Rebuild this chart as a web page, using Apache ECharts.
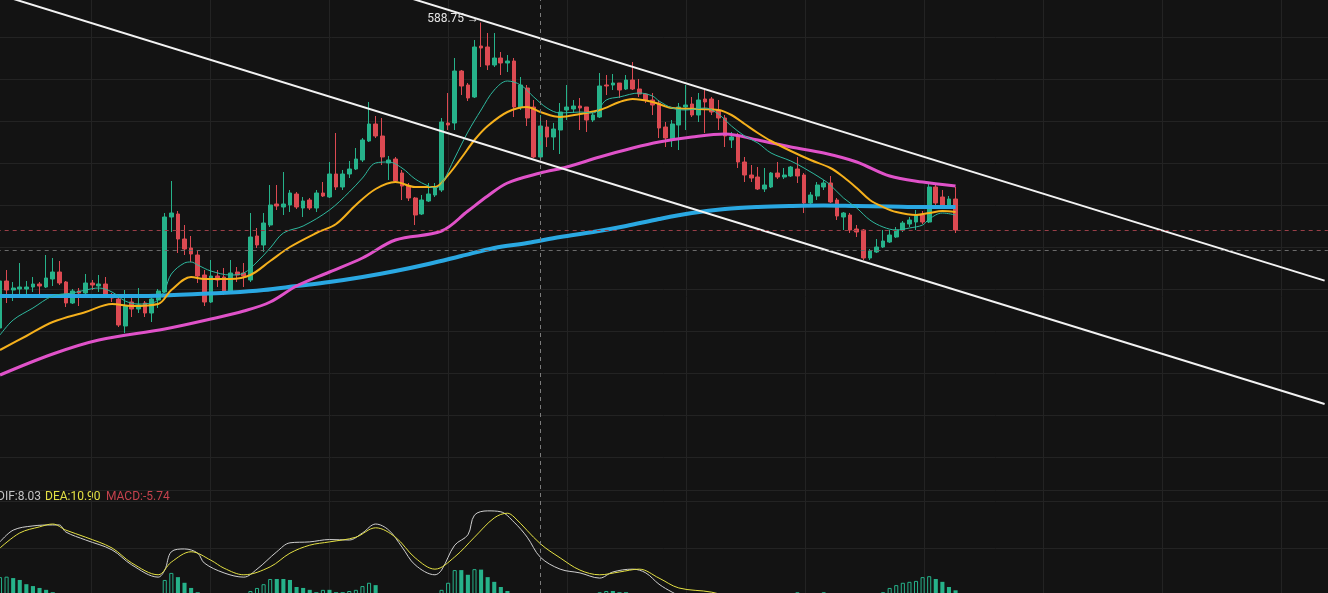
<!DOCTYPE html>
<html>
<head>
<meta charset="utf-8">
<title></title>
<script type="text/javascript" src="https://cdn.jsdelivr.net/npm/echarts@6/dist/echarts.min.js"></script>
<style>
html, body { margin: 0; padding: 0; background: #131313; }
#kline { width: 1328px; height: 593px; }
</style>
</head>
<body>
<div id="kline"></div>
<script type="text/javascript">
// one slot per trading day, the right part of the chart is empty space
var SLOTS = 202;
var slots = [];
for (var s = 0; s < SLOTS; s++) slots.push(s);

// [open, close, low, high]
var candles = [
  [436,459.5,434,461],[459.5,455,448.5,465],[455,456,449.5,459],[455.5,456.5,453,468.5],[455.5,456.5,452.5,459.5],
  [456.5,458,454,461.5],[458,457,452.5,459],[456.5,461,456,472.5],[460.5,464,457,471],[464,458.5,457.5,469.5],
  [459,448.5,446.5,459.5],[448.5,454.5,448,455.5],[454.5,453.5,447,456],[453.5,458.5,453,463],[458.5,457.5,455,460],
  [457,458,454,462.5],[458,452.5,452,461.5],[452,451,449,453.5],[450.5,437.5,436.5,451.5],[437,447,433.5,455],
  [449,445.5,441.5,451],[445.5,447.5,443.5,456],[448.5,443.5,441.5,449.5],[443.5,450.5,439,451],[450,454.5,446,455.5],
  [454,491.5,453.5,493.5],[491.5,493.5,484,509.5],[493,480.5,473.5,494.5],[480.5,475.5,472.5,487.5],[476,473,469,482],
  [472.5,462,458.5,475],[462.5,449,447,465],[449,462,448.5,470],[462,460,456.5,465],[461.5,454,452.5,466],
  [454,463.5,453.5,470],[464,462.5,459,466.5],[463.5,462,456.5,468.5],[460,481.5,459,493.5],[482,477.5,476,486],
  [477.5,488.5,474,493.5],[487.5,497.5,486.5,507.5],[498,497,495,507.5],[496.5,498,492.5,514],[497.5,503.5,494,505],
  [503,496.5,495.5,504],[496,499.5,491.5,501.5],[500,496,495,501],[496,503.5,494,505],[503.5,502,501.5,509],
  [501.5,513,501,519],[513,506.5,505,533.5],[506.5,513,505,515],[513,515.5,511,519.5],[515.5,520.5,515,526],
  [520,530,519,531],[529.5,538,529,549],[538,532,531,542],[532,521.5,517.5,541],[518.5,520,510,522],
  [520.5,509.5,509,521.5],[513.5,507,500,515],[507,501,499.5,508.5],[501,492.5,487.5,501.5],[493,500,492.5,502.5],
  [499.5,503,499,508.5],[502.5,506,501.5,508.5],[505,539,504,541],[538.5,537.5,535,553.5],[538.5,564.5,535,571],
  [564.5,557,552.5,565],[557.5,551,549.5,558.5],[551.5,576.5,551,580],[577,576,566.5,588.75],[576.5,567.5,565,583.5],
  [567.5,571,566.5,583.5],[571,568.5,562.5,574],[568.5,569.5,564,572.5],[569.5,546.5,541.5,571],[546.5,557.5,545,561.5],
  [556,541,537,557.5],[546.5,521.5,521,550],[521.5,537,520,542.5],[536.5,531.5,526.5,540],[531.5,535.5,525,538.5],
  [535,544,523,548.5],[545,546.5,540,557.5],[545.5,547,543.5,550],[547,546,535,551],[546.5,540,534,546.5],
  [540,542.5,539,543.5],[541.5,557,541,563.5],[557.5,557,552.5,562.5],[557.5,558.5,555,563],[558.5,555,551,558.5],
  [555.5,560,555,562.5],[560,555.5,555,569],[555.5,553,551.5,560.5],[553,550,548.5,553.5],[550,547.5,542.5,553.5],
  [548.5,536,531,550],[536.5,531,526.5,539],[530.5,538,526.5,540],[537.5,546.5,525,548.5],[546.5,547.5,535,557.5],
  [548,542.5,541.5,551.5],[542.5,550,539,553.5],[550.5,549,533.5,555],[550.5,544,542.5,551.5],[545,541,535,550],
  [541,532,526.5,542.5],[530,531.5,526,534],[532.5,519,516,533.5],[519,512.5,509,521.5],[512.5,511,509,517.5],
  [511.5,505.5,505,516.5],[505.5,507.5,504,516],[506.5,513.5,506,514],[513.5,511.5,510.5,519],[511.5,512.5,510.5,516],
  [512,516.5,511.5,517],[515.5,512,508.5,521.5],[512.5,498.5,493.5,513.5],[498.5,502.5,497.5,504],[502,507.5,500,509],
  [506.5,508.5,505,510],[508.5,499,498.5,512],[500,492,490,501],[491.5,493.5,485,494],[492.5,485,483.5,493.5],
  [485.5,484,481.5,487.5],[485,471,470,485.5],[471,474.5,470,475.5],[474,476.5,473.5,480.5],[476.5,479.5,476,485],
  [479,482.5,478.5,485],[481.5,485,481,486.5],[485,488.5,484,489.5],[488,490,486.5,491.5],[489,492.5,485,495],
  [492.5,489,488,494.5],[489,506.5,488.5,508],[506.5,498.5,496,507.5],[501.5,497.5,497,505],[497.5,500.5,496,502],
  [500.5,485,483.5,506.5]
];

// moving averages, [slot, price]
var ma5 = [[0,432.5],[2,440],[5,446],[8,452],[11,453.5],[13,455],[15,456],[17,454],[19,449.5],[21,448],[23,448.5],
  [24,450],[25,455],[26,463],[28,468.5],[29,469],[30,467.5],[32,464.5],[35,462.5],[37,463.5],[39,469],[41,476],
  [43,483.5],[46,487],[50,495],[53,504],[55,511],[57,518.5],[59,519],[61,516],[63,510.5],[65,507],[66,506],[67,508],
  [69,521],[71,534],[73,545],[75,555],[77,559.5],[79,557.5],[81,551.5],[83,546],[85,543.5],[88,544],[90,543.5],
  [92,550],[94,551.5],[97,553.5],[99,552],[100,549.5],[102,546],[104,545],[107,546],[109,543],[111,537],[113,532],
  [115,528.5],[117,523.5],[120,519.5],[122,516],[125,510],[126,507.5],[128,501],[130,496],[132,490],[134,486.5],
  [136,485],[138,486],[140,487.5],[141,490.5],[143,493.5],[145,492.5]];
var ma10 = [[0,425],[4,432],[8,439],[13,444],[17,448],[20,447],[24,448],[26,455],[29,461.5],[31,460.5],[35,460.5],
  [38,462.5],[41,469.5],[44,476.5],[48,483.5],[51,488],[54,497.5],[57,505.5],[60,509],[63,506.5],[66,506.5],
  [68,512.5],[70,521],[72,530],[74,537],[77,544],[80,546.5],[82,544],[85,541.5],[88,543],[91,545],[94,549],
  [96,550.5],[99,549],[102,546],[106,545.5],[109,545],[111,542.5],[113,538],[115,533.5],[117,529.5],[120,524.5],
  [123,520],[126,516],[128,511.5],[130,506],[132,500],[134,496.5],[136,494],[139,492.5],[141,493.5],[143,494.5],[145,494]];
var ma60 = [[0,412.5],[8,423],[15,430],[25,435.5],[32,440.5],[37,444.5],[41,449],[45,457],[50,464],[55,471],[60,480],
  [67,484.5],[71,494.5],[74,502],[77,508.5],[82,513.5],[86,516.5],[91,521.5],[96,526],[100,529],[105,531.5],
  [110,533],[115,530],[120,526.5],[125,523.5],[130,519],[135,512],[140,509],[145,507]];
var ma120 = [[0,452],[10,452],[20,452],[25,452.25],[30,453],[35,453.75],[40,455],[45,457],[50,459],[55,461.5],
  [60,464.5],[65,468],[70,472],[75,476],[80,478.5],[85,481.5],[90,484],[95,487],[100,490.5],[105,493.5],[110,495.5],
  [115,496.5],[120,497],[125,497.25],[130,497],[135,496.75],[140,496.5],[145,496.5]];

// the two channel lines, [slot, price] at each end
var channelLow = [[0,602.6],[201,398]];
var channelHigh = [[0,664.3],[201,459.7]];

// price levels marked with dashed lines
var lastClose = candles[candles.length - 1][1];
var refLevel = 475;
var crossSlot = 82;

// MACD pane
var dif = [[0,11.3],[2,13.8],[5,14.7],[8,14.9],[9,14.9],[10,13.4],[13,11.7],[17,9.6],[20,6.4],[24,3.8],[25,5.3],
  [26,9.2],[28,9.8],[30,8.9],[31,6.8],[34,4.7],[37,3.8],[39,5.5],[42,9.2],[44,11.1],[47,11.3],[50,11.8],[53,11.7],
  [55,13.2],[57,15.1],[59,13.8],[61,10.2],[63,6.4],[66,4.3],[67,5.3],[69,10.6],[71,12.8],[72,17.0],[74,17.9],
  [76,17.7],[78,15.5],[80,12.3],[82,8.03],[85,5.5],[88,4.7],[91,3.6],[93,4.9],[96,5.5],[98,4.7],[100,2.3],[102,0.6],
  [105,-1.5],[110,-4.5],[115,-7],[120,-8],[125,-8.5],[130,-9],[135,-7],[140,-4.5],[145,-4]];
var dea = [[0,10.0],[3,13.2],[6,14.5],[8,15.1],[10,13.8],[13,12.3],[17,10.0],[20,6.8],[24,4.3],[26,7.0],[29,9.2],
  [32,7.4],[34,5.7],[37,4.3],[41,6.0],[44,8.9],[47,10.6],[50,11.3],[54,12.3],[57,14.3],[60,12.3],[63,7.9],[66,5.5],
  [69,8.1],[72,12.3],[75,16.4],[77,17.4],[78,16.6],[82,10.9],[85,7.9],[88,5.3],[91,4.3],[94,4.9],[97,5.5],[100,3.6],
  [103,1.5],[108,0.6],[112,-1],[117,-3],[122,-5],[127,-6.5],[132,-7.5],[137,-7],[142,-6],[145,-5.5]];
var macd = [3.8,3.9,3.6,3.2,2.3,1.9,1.5,1.1,0.6,-0.3,-1.0,-1.5,-1.8,-2.0,-2.1,-2.0,-1.8,-1.6,-1.5,-1.2,
  -1.0,-0.8,-0.6,-0.4,-0.2,3.2,4.7,3.8,2.6,1.5,0.6,-0.5,-1.0,-1.4,-1.6,-1.3,-0.9,-0.3,0.85,1.5,
  2.3,3.4,3.4,3.4,3.2,1.7,1.5,1.1,0.6,1.1,1.1,0.6,0.6,0.85,1.1,1.9,2.6,2.1,-0.3,-1.0,
  -1.8,-2.5,-3.0,-3.2,-3.0,-2.4,-1.5,1.1,2.6,5.3,5.3,4.3,5.5,5.4,3.8,2.8,1.7,0.85,-0.8,-2.0,
  -3.5,-5.0,-5.74,-5.5,-5.0,-4.4,-3.6,-2.8,-2.0,-1.2,-0.4,0.6,0.85,0.85,0.6,0.6,-0.3,-0.6,-1.0,-1.4,
  -1.8,-2.2,-2.6,-2.9,-3.0,-3.0,-2.8,-2.6,-2.9,-3.3,-3.6,-3.9,-4.3,-4.6,-4.4,-4.0,-3.4,-2.6,-1.8,-1.0,
  -0.3,0.6,-0.2,-0.6,-0.4,0.6,-0.2,-1.0,-1.8,-2.4,-2.6,-2.4,-1.6,-0.6,0.6,1.5,2.1,2.6,2.8,3.0,
  3.8,4.0,3.4,2.8,1.7,1.0];

var UP = '#26b28a', DOWN = '#dc4a52', BG = '#131313', GRIDC = '#232323';

function valueAt(pairs, slot) {
  for (var k = 0; k < pairs.length; k++) if (pairs[k][0] === slot) return pairs[k][1];
  return null;
}

var macdBars = macd.map(function (v, i) {
  var prev = i > 0 ? macd[i - 1] : -Infinity;
  var c = v >= 0 ? UP : DOWN;
  var hollow = v >= 0 ? v > prev : v < prev;
  return {
    value: v,
    itemStyle: hollow ? { color: BG, borderColor: c, borderWidth: 1 } : { color: c }
  };
});

function maLine(name, data, color, width) {
  return {
    name: name, type: 'line', xAxisIndex: 0, yAxisIndex: 0, data: data,
    showSymbol: false, smooth: 0.35, silent: true,
    lineStyle: { color: color, width: width }
  };
}

var hidden = { axisLine: { show: false }, axisTick: { show: false }, axisLabel: { show: false } };
function axis(extra) { return Object.assign({}, hidden, extra); }
// grids reach past the canvas edges on purpose, so no clamping to the container
function grid(extra) { return Object.assign({ outerBoundsMode: 'none', containLabel: false }, extra); }

var myChart = echarts.init(document.getElementById('kline'));
var option = {
  backgroundColor: BG,
  animation: false,
  grid: [
    grid({ left: -3.3, width: 1331.2, top: -5, height: 462 }),
    grid({ left: -3.3, width: 1331.2, top: 490, height: 199 }),
    grid({ left: -28, width: 1428, top: 0, height: 593 }),
    grid({ left: -3.3, width: 1331.2, top: 0, height: 593 })
  ],
  xAxis: [
    axis({ type: 'category', gridIndex: 0, data: slots, splitLine: { show: false } }),
    axis({ type: 'category', gridIndex: 1, data: slots, splitLine: { show: false } }),
    axis({ type: 'value', gridIndex: 2, min: 0, max: 1428, interval: 119,
      splitLine: { show: true, lineStyle: { color: GRIDC, width: 1 } } }),
    axis({ type: 'category', gridIndex: 3, data: slots, splitLine: { show: false } })
  ],
  yAxis: [
    axis({ type: 'value', gridIndex: 0, min: 371.5, max: 602.5, interval: 21,
      splitLine: { show: true, lineStyle: { color: GRIDC, width: 1 } } }),
    axis({ type: 'value', gridIndex: 1, min: -20, max: 22.34, interval: 10,
      splitLine: { show: true, lineStyle: { color: GRIDC, width: 1 } } }),
    axis({ type: 'value', gridIndex: 2, min: 0, max: 1, splitLine: { show: false } }),
    axis({ type: 'value', gridIndex: 3, min: 0, max: 1, splitLine: { show: false } })
  ],
  graphic: [
    { type: 'text', left: -3, top: 491, style: { text: 'DIF:' + valueAt(dif, crossSlot).toFixed(2), fill: '#c4c4c4', font: '12px Roboto' } },
    { type: 'text', left: 45, top: 491, style: { text: 'DEA:' + valueAt(dea, crossSlot).toFixed(2), fill: '#e4e044', font: '12px Roboto' } },
    { type: 'text', left: 106, top: 491, style: { text: 'MACD:' + macd[crossSlot].toFixed(2), fill: '#c4424d', font: '12px Roboto' } }
  ],
  series: [
    {
      name: 'K', type: 'candlestick', xAxisIndex: 0, yAxisIndex: 0, data: candles,
      barWidth: '64%',
      itemStyle: { color: UP, color0: DOWN, borderColor: UP, borderColor0: DOWN, borderWidth: 1 },
      markLine: {
        silent: true, symbol: 'none', label: { show: false },
        lineStyle: { type: [4, 4], width: 1 },
        data: [
          { yAxis: lastClose, lineStyle: { color: '#9a3f48' } },
          { yAxis: refLevel, lineStyle: { color: '#6b6b6b' } }
        ]
      },
      markPoint: {
        symbol: 'circle', symbolSize: 0, silent: true,
        data: [{ type: 'max', valueDim: 'highest' }],
        label: {
          show: true, position: 'left', distance: 2, offset: [0, -4],
          color: '#e4e4e4', fontSize: 12, fontFamily: 'Roboto',
          formatter: function (p) { return p.value.toFixed(2) + ' \u2192'; }
        }
      }
    },
    maLine('MA120', ma120, '#2aa8e2', 4),
    maLine('MA60', ma60, '#e052c9', 3),
    maLine('MA10', ma10, '#f5b01c', 2),
    maLine('MA5', ma5, '#2fb89e', 1),
    {
      name: 'channel-low', type: 'line', xAxisIndex: 0, yAxisIndex: 0, data: channelLow,
      showSymbol: false, silent: true, lineStyle: { color: '#f2f2f2', width: 2 }
    },
    {
      name: 'channel-high', type: 'line', xAxisIndex: 0, yAxisIndex: 0, data: channelHigh,
      showSymbol: false, silent: true, lineStyle: { color: '#f2f2f2', width: 2 }
    },
    {
      name: 'MACD', type: 'bar', xAxisIndex: 1, yAxisIndex: 1, data: macdBars,
      barWidth: '62%', silent: true
    },
    {
      name: 'DIF', type: 'line', xAxisIndex: 1, yAxisIndex: 1, data: dif,
      showSymbol: false, smooth: 0.35, silent: true, lineStyle: { color: '#cfcfcf', width: 1 }
    },
    {
      name: 'DEA', type: 'line', xAxisIndex: 1, yAxisIndex: 1, data: dea,
      showSymbol: false, smooth: 0.35, silent: true, lineStyle: { color: '#e4e044', width: 1 }
    },
    {
      // carries the vertical crosshair over both panes
      name: 'cross', type: 'line', xAxisIndex: 3, yAxisIndex: 3, data: [[crossSlot, 0.5]],
      showSymbol: false, silent: true, lineStyle: { width: 0 },
      markLine: {
        silent: true, symbol: 'none', label: { show: false },
        lineStyle: { type: [4, 4], width: 1, color: '#7c7c7c' },
        data: [{ xAxis: crossSlot }]
      }
    }
  ]
};
myChart.setOption(option);
</script>
</body>
</html>
